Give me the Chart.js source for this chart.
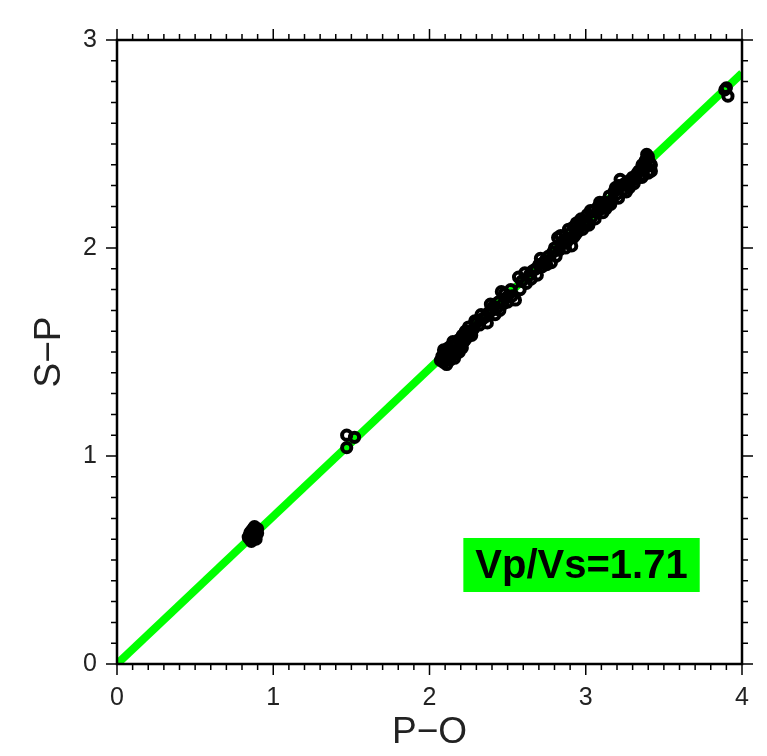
<!DOCTYPE html>
<html>
<head>
<meta charset="utf-8">
<script src="https://cdn.jsdelivr.net/npm/chart.js@4.4.1/dist/chart.umd.min.js"></script>
<style>
  html,body{margin:0;padding:0;background:#fff}
  #wrap{width:767px;height:756px;position:relative}
</style>
</head>
<body>
<div id="wrap"><canvas id="c" width="767" height="756"></canvas></div>
<script>
// S-P vs P-O travel times, Wadati-style plot
const poTimes = [
  0.84,0.85,0.86,0.87,0.88,0.86,0.89,0.90,0.88,0.85,0.87,0.89,0.86,0.88,0.90,0.87,0.85,
  1.47,1.47,1.52,
  2.07,2.08,2.09,2.10,2.11,2.12,2.13,2.14,2.15,2.16,2.17,2.18,2.19,2.20,2.21,2.22,2.23,2.24,2.26,2.28,
  2.30,2.32,2.34,2.36,2.38,2.40,2.41,2.43,2.44,2.46,2.47,2.49,2.52,2.55,2.57,2.59,2.62,2.64,2.66,2.68,
  2.70,2.72,2.74,2.76,2.78,2.80,2.82,2.83,2.85,2.86,2.88,2.90,2.91,2.92,2.93,2.94,2.95,2.96,2.97,2.98,
  3.00,3.01,3.02,3.04,3.05,3.07,3.08,3.10,3.11,3.12,3.14,3.15,3.17,3.18,3.20,3.21,3.22,3.24,3.25,3.27,
  3.28,3.30,3.32,3.34,3.35,3.36,3.37,3.38,3.39,3.40,3.41,3.42,3.40,
  2.09,2.11,2.13,2.15,2.17,2.19,2.21,2.23,2.25,2.27,2.29,2.33,2.37,2.39,2.42,2.45,2.48,2.50,2.53,2.58,
  2.61,2.65,2.69,2.71,2.75,2.79,2.81,2.84,2.87,2.89,2.92,2.94,2.96,2.99,3.01,3.03,3.06,3.09,3.11,3.13,
  3.16,3.19,3.21,3.23,3.26,3.29,3.31,3.33,3.36,3.38,3.40,3.42,3.39,
  3.89,3.90,3.91
];
const spTimes = [
  0.61,0.60,0.62,0.61,0.63,0.64,0.62,0.65,0.66,0.63,0.60,0.60,0.59,0.61,0.63,0.65,0.62,
  1.04,1.10,1.09,
  1.46,1.48,1.45,1.50,1.47,1.52,1.49,1.53,1.50,1.47,1.54,1.51,1.56,1.53,1.58,1.55,1.60,1.57,1.59,1.61,
  1.64,1.63,1.66,1.67,1.69,1.70,1.72,1.71,1.74,1.79,1.73,1.76,1.80,1.75,1.86,1.84,1.83,1.87,1.89,1.90,
  1.92,1.91,1.94,1.96,1.93,2.00,2.05,1.99,2.02,2.04,2.03,2.07,2.01,2.10,2.06,2.12,2.08,2.10,2.14,2.09,
  2.13,2.16,2.11,2.15,2.18,2.17,2.20,2.19,2.17,2.22,2.21,2.25,2.23,2.27,2.26,2.30,2.33,2.28,2.31,2.32,
  2.29,2.34,2.33,2.37,2.35,2.40,2.38,2.42,2.39,2.44,2.41,2.37,2.36,
  1.51,1.44,1.46,1.55,1.49,1.50,1.52,1.56,1.62,1.58,1.65,1.68,1.64,1.73,1.68,1.70,1.78,1.74,1.77,1.80,
  1.88,1.85,1.87,1.95,1.92,1.98,1.96,2.06,2.00,2.09,2.05,2.07,2.13,2.11,2.12,2.18,2.14,2.22,2.20,2.19,
  2.21,2.29,2.24,2.30,2.27,2.33,2.31,2.36,2.34,2.40,2.43,2.40,2.45,
  2.76,2.77,2.73
];
const vpvs = 1.71;
const fitX = [0, 4];
const fitY = fitX.map(x => x*(vpvs-1));
const majorTicksX = [0,1,2,3,4];
const majorTicksY = [0,1,2,3];

const GREEN = '#00ff00';
const FONT = '"Liberation Sans", Arial, Helvetica, sans-serif';

// frame + GMT-like ticks on all four sides
const frameTicks = {
  id:'frameTicks',
  afterDraw(chart){
    const {ctx, chartArea:a, scales:{x,y}} = chart;
    ctx.save();
    ctx.strokeStyle = '#000';
    ctx.lineWidth = 1.5;
    ctx.beginPath();
    for(let i=0;i<=40;i++){
      const v = i/10, px = x.getPixelForValue(v);
      const len = i%10===0 ? 11 : 6;
      ctx.moveTo(px, a.bottom); ctx.lineTo(px, a.bottom+len);
      ctx.moveTo(px, a.top); ctx.lineTo(px, a.top-len);
    }
    for(let i=0;i<=30;i++){
      const v = i/10, py = y.getPixelForValue(v);
      const len = i%10===0 ? 11 : 6;
      ctx.moveTo(a.left, py); ctx.lineTo(a.left-len, py);
      ctx.moveTo(a.right, py); ctx.lineTo(a.right+len, py);
    }
    ctx.stroke();
    ctx.lineWidth = 2.5;
    ctx.strokeRect(a.left, a.top, a.right-a.left, a.bottom-a.top);
    ctx.restore();
  }
};

// Vp/Vs label box
const ratioLabel = {
  id:'ratioLabel',
  afterDatasetsDraw(chart){
    const {ctx, scales:{x,y}} = chart;
    const cx = x.getPixelForValue(2.973), cy = y.getPixelForValue(0.476);
    const txt = 'Vp/Vs=' + vpvs.toFixed(2);
    ctx.save();
    ctx.font = 'bold 40px ' + FONT;
    const w = ctx.measureText(txt).width + 24, h = 54;
    ctx.fillStyle = GREEN;
    ctx.fillRect(cx-w/2, cy-h/2, w, h);
    ctx.fillStyle = '#000';
    ctx.textAlign = 'center'; ctx.textBaseline = 'middle';
    ctx.fillText(txt, cx, cy+2);
    ctx.restore();
  }
};

new Chart(document.getElementById('c'), {
  type:'scatter',
  data:{
    datasets:[
      {
        type:'line', label:'fit',
        data: fitX.map((v,i)=>({x:v, y:fitY[i]})),
        borderColor: GREEN, borderWidth: 8, pointRadius: 0, fill:false,
        borderCapStyle:'butt', order: 2
      },
      {
        label:'picks',
        data: poTimes.map((v,i)=>({x:v, y:spTimes[i]})),
        pointStyle:'circle', pointRadius: 4.6, borderWidth: 4,
        borderColor:'#000', backgroundColor:'rgba(0,0,0,0)', order: 1
      }
    ]
  },
  options:{
    responsive:false, animation:false,
    layout:{padding:{top:40, right:25, left:0, bottom:0}},
    plugins:{legend:{display:false}, tooltip:{enabled:false}},
    scales:{
      x:{
        type:'linear', min:0, max:4,
        border:{display:false},
        grid:{display:false, drawTicks:true, tickLength:12},
        afterBuildTicks: s => { s.ticks = majorTicksX.map(v=>({value:v})); },
        afterFit: s => { s.height = 92; },
        ticks:{color:'#222', padding:7, maxRotation:0, font:{family:FONT, size:25}},
        title:{display:true, text:'P\u2212O', color:'#222', padding:{bottom:1}, font:{family:FONT, size:37}}
      },
      y:{
        type:'linear', min:0, max:3,
        border:{display:false},
        grid:{display:false, drawTicks:true, tickLength:12},
        afterBuildTicks: s => { s.ticks = majorTicksY.map(v=>({value:v})); },
        afterFit: s => { s.width = 117; },
        ticks:{color:'#222', padding:8, font:{family:FONT, size:25}},
        title:{display:true, text:'S\u2212P', color:'#222', padding:{top:28}, font:{family:FONT, size:37}}
      }
    }
  },
  plugins:[frameTicks, ratioLabel]
});
</script>
</body>
</html>
